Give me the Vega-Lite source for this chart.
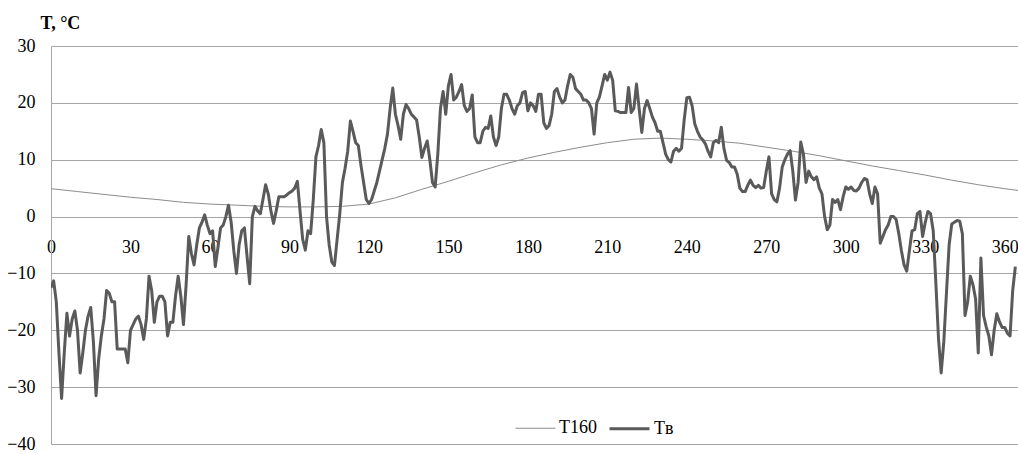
{
  "$schema": "https://vega.github.io/schema/vega-lite/v6.json",
  "width": 967,
  "height": 398,
  "autosize": "none",
  "padding": {"left": 51, "top": 46, "right": 0, "bottom": 10},
  "config": {
    "view": {"stroke": null},
    "font": "Liberation Serif",
    "axis": {"labelFont": "Liberation Serif", "labelFontSize": 18, "labelColor": "#000000", "titleFont": "Liberation Serif"},
    "legend": {"labelFont": "Liberation Serif", "labelFontSize": 18, "labelColor": "#000000"}
  },
  "data": {
    "values": [
      {"d":0,"t":4.9,"s":"T160"},{"d":10,"t":4.4,"s":"T160"},{"d":20,"t":3.9,"s":"T160"},{"d":30,"t":3.4,"s":"T160"},{"d":40,"t":3.0,"s":"T160"},{"d":50,"t":2.5,"s":"T160"},{"d":60,"t":2.2,"s":"T160"},{"d":70,"t":2.0,"s":"T160"},{"d":80,"t":1.8,"s":"T160"},{"d":90,"t":1.7,"s":"T160"},{"d":100,"t":1.7,"s":"T160"},{"d":110,"t":1.8,"s":"T160"},{"d":120,"t":2.2,"s":"T160"},{"d":130,"t":3.3,"s":"T160"},{"d":140,"t":4.8,"s":"T160"},{"d":150,"t":6.2,"s":"T160"},{"d":160,"t":7.7,"s":"T160"},{"d":170,"t":9.1,"s":"T160"},{"d":180,"t":10.3,"s":"T160"},{"d":190,"t":11.3,"s":"T160"},{"d":200,"t":12.2,"s":"T160"},{"d":210,"t":13.0,"s":"T160"},{"d":220,"t":13.6,"s":"T160"},{"d":230,"t":13.8,"s":"T160"},{"d":240,"t":13.6,"s":"T160"},{"d":250,"t":13.3,"s":"T160"},{"d":260,"t":12.9,"s":"T160"},{"d":270,"t":12.2,"s":"T160"},{"d":280,"t":11.5,"s":"T160"},{"d":290,"t":10.7,"s":"T160"},{"d":300,"t":9.8,"s":"T160"},{"d":310,"t":8.9,"s":"T160"},{"d":320,"t":8.1,"s":"T160"},{"d":330,"t":7.3,"s":"T160"},{"d":340,"t":6.4,"s":"T160"},{"d":350,"t":5.6,"s":"T160"},{"d":360,"t":4.9,"s":"T160"},{"d":365,"t":4.6,"s":"T160"},
      {"d":0,"t":-12.5,"s":"Tв"},{"d":1,"t":-11.3,"s":"Tв"},{"d":2,"t":-15,"s":"Tв"},{"d":3,"t":-24,"s":"Tв"},{"d":4,"t":-32,"s":"Tв"},{"d":5,"t":-24,"s":"Tв"},{"d":6,"t":-17,"s":"Tв"},{"d":7,"t":-21,"s":"Tв"},{"d":8,"t":-18,"s":"Tв"},{"d":9,"t":-16.6,"s":"Tв"},
      {"d":10,"t":-20,"s":"Tв"},{"d":11,"t":-27.5,"s":"Tв"},{"d":12,"t":-24,"s":"Tв"},{"d":13,"t":-20,"s":"Tв"},{"d":14,"t":-17.5,"s":"Tв"},{"d":15,"t":-16,"s":"Tв"},{"d":16,"t":-22,"s":"Tв"},{"d":17,"t":-31.5,"s":"Tв"},{"d":18,"t":-25,"s":"Tв"},{"d":19,"t":-21,"s":"Tв"},
      {"d":20,"t":-18,"s":"Tв"},{"d":21,"t":-13,"s":"Tв"},{"d":22,"t":-13.5,"s":"Tв"},{"d":23,"t":-15,"s":"Tв"},{"d":24,"t":-15,"s":"Tв"},{"d":25,"t":-23.3,"s":"Tв"},{"d":26,"t":-23.3,"s":"Tв"},{"d":27,"t":-23.3,"s":"Tв"},{"d":28,"t":-23.3,"s":"Tв"},{"d":29,"t":-25.7,"s":"Tв"},
      {"d":30,"t":-20,"s":"Tв"},{"d":31,"t":-19,"s":"Tв"},{"d":32,"t":-18,"s":"Tв"},{"d":33,"t":-17.5,"s":"Tв"},{"d":34,"t":-19,"s":"Tв"},{"d":35,"t":-21.6,"s":"Tв"},{"d":36,"t":-18,"s":"Tв"},{"d":37,"t":-10.5,"s":"Tв"},{"d":38,"t":-13,"s":"Tв"},{"d":39,"t":-18.6,"s":"Tв"},
      {"d":40,"t":-15,"s":"Tв"},{"d":41,"t":-14,"s":"Tв"},{"d":42,"t":-14,"s":"Tв"},{"d":43,"t":-15,"s":"Tв"},{"d":44,"t":-21,"s":"Tв"},{"d":45,"t":-18.6,"s":"Tв"},{"d":46,"t":-18.6,"s":"Tв"},{"d":47,"t":-14,"s":"Tв"},{"d":48,"t":-10.5,"s":"Tв"},{"d":49,"t":-14,"s":"Tв"},
      {"d":50,"t":-19,"s":"Tв"},{"d":51,"t":-12,"s":"Tв"},{"d":52,"t":-3.5,"s":"Tв"},{"d":53,"t":-6.5,"s":"Tв"},{"d":54,"t":-8.5,"s":"Tв"},{"d":55,"t":-5,"s":"Tв"},{"d":56,"t":-2,"s":"Tв"},{"d":57,"t":-1,"s":"Tв"},{"d":58,"t":0.3,"s":"Tв"},{"d":59,"t":-1.5,"s":"Tв"},
      {"d":60,"t":-3,"s":"Tв"},{"d":61,"t":-2.5,"s":"Tв"},{"d":62,"t":-8.8,"s":"Tв"},{"d":63,"t":-5.5,"s":"Tв"},{"d":64,"t":-2,"s":"Tв"},{"d":65,"t":-1.5,"s":"Tв"},{"d":66,"t":0,"s":"Tв"},{"d":67,"t":2,"s":"Tв"},{"d":68,"t":-1,"s":"Tв"},{"d":69,"t":-6,"s":"Tв"},
      {"d":70,"t":-10,"s":"Tв"},{"d":71,"t":-5,"s":"Tв"},{"d":72,"t":-2.5,"s":"Tв"},{"d":73,"t":-2,"s":"Tв"},{"d":74,"t":-7,"s":"Tв"},{"d":75,"t":-11.8,"s":"Tв"},{"d":76,"t":0,"s":"Tв"},{"d":77,"t":1.8,"s":"Tв"},{"d":78,"t":1,"s":"Tв"},{"d":79,"t":0.5,"s":"Tв"},
      {"d":80,"t":3,"s":"Tв"},{"d":81,"t":5.6,"s":"Tв"},{"d":82,"t":4,"s":"Tв"},{"d":83,"t":1,"s":"Tв"},{"d":84,"t":-1.2,"s":"Tв"},{"d":85,"t":1,"s":"Tв"},{"d":86,"t":3.5,"s":"Tв"},{"d":87,"t":3.5,"s":"Tв"},{"d":88,"t":3.5,"s":"Tв"},{"d":89,"t":3.8,"s":"Tв"},
      {"d":90,"t":4.2,"s":"Tв"},{"d":91,"t":4.5,"s":"Tв"},{"d":92,"t":5,"s":"Tв"},{"d":93,"t":6.2,"s":"Tв"},{"d":94,"t":1,"s":"Tв"},{"d":95,"t":-4,"s":"Tв"},{"d":96,"t":-5.9,"s":"Tв"},{"d":97,"t":-2.5,"s":"Tв"},{"d":98,"t":-3,"s":"Tв"},{"d":99,"t":3,"s":"Tв"},
      {"d":100,"t":10.5,"s":"Tв"},{"d":101,"t":12.5,"s":"Tв"},{"d":102,"t":15.3,"s":"Tв"},{"d":103,"t":13,"s":"Tв"},{"d":104,"t":0,"s":"Tв"},{"d":105,"t":-5,"s":"Tв"},{"d":106,"t":-8,"s":"Tв"},{"d":107,"t":-8.6,"s":"Tв"},{"d":108,"t":-4,"s":"Tв"},{"d":109,"t":0.5,"s":"Tв"},
      {"d":110,"t":6,"s":"Tв"},{"d":111,"t":8.5,"s":"Tв"},{"d":112,"t":11.5,"s":"Tв"},{"d":113,"t":16.8,"s":"Tв"},{"d":114,"t":15,"s":"Tв"},{"d":115,"t":13,"s":"Tв"},{"d":116,"t":12.5,"s":"Tв"},{"d":117,"t":9,"s":"Tв"},{"d":118,"t":6,"s":"Tв"},{"d":119,"t":3,"s":"Tв"},
      {"d":120,"t":2.3,"s":"Tв"},{"d":121,"t":3,"s":"Tв"},{"d":122,"t":4.5,"s":"Tв"},{"d":123,"t":6,"s":"Tв"},{"d":124,"t":8,"s":"Tв"},{"d":125,"t":10,"s":"Tв"},{"d":126,"t":12,"s":"Tв"},{"d":127,"t":14.5,"s":"Tв"},{"d":128,"t":19,"s":"Tв"},{"d":129,"t":22.6,"s":"Tв"},
      {"d":130,"t":18,"s":"Tв"},{"d":131,"t":16,"s":"Tв"},{"d":132,"t":13.6,"s":"Tв"},{"d":133,"t":18,"s":"Tв"},{"d":134,"t":19.7,"s":"Tв"},{"d":135,"t":19,"s":"Tв"},{"d":136,"t":18,"s":"Tв"},{"d":137,"t":17.5,"s":"Tв"},{"d":138,"t":17,"s":"Tв"},{"d":139,"t":14,"s":"Tв"},
      {"d":140,"t":10.4,"s":"Tв"},{"d":141,"t":12,"s":"Tв"},{"d":142,"t":13.3,"s":"Tв"},{"d":143,"t":10,"s":"Tв"},{"d":144,"t":6,"s":"Tв"},{"d":145,"t":5.2,"s":"Tв"},{"d":146,"t":11,"s":"Tв"},{"d":147,"t":19,"s":"Tв"},{"d":148,"t":22,"s":"Tв"},{"d":149,"t":18,"s":"Tв"},
      {"d":150,"t":23,"s":"Tв"},{"d":151,"t":25,"s":"Tв"},{"d":152,"t":20.5,"s":"Tв"},{"d":153,"t":21,"s":"Tв"},{"d":154,"t":22,"s":"Tв"},{"d":155,"t":23.2,"s":"Tв"},{"d":156,"t":19.5,"s":"Tв"},{"d":157,"t":18.5,"s":"Tв"},{"d":158,"t":19,"s":"Tв"},{"d":159,"t":21.4,"s":"Tв"},
      {"d":160,"t":14,"s":"Tв"},{"d":161,"t":13,"s":"Tв"},{"d":162,"t":13,"s":"Tв"},{"d":163,"t":15,"s":"Tв"},{"d":164,"t":15.7,"s":"Tв"},{"d":165,"t":15.5,"s":"Tв"},{"d":166,"t":17.7,"s":"Tв"},{"d":167,"t":14,"s":"Tв"},{"d":168,"t":12.5,"s":"Tв"},{"d":169,"t":14,"s":"Tв"},
      {"d":170,"t":19,"s":"Tв"},{"d":171,"t":21.5,"s":"Tв"},{"d":172,"t":21.5,"s":"Tв"},{"d":173,"t":20.5,"s":"Tв"},{"d":174,"t":19,"s":"Tв"},{"d":175,"t":18,"s":"Tв"},{"d":176,"t":19.5,"s":"Tв"},{"d":177,"t":20,"s":"Tв"},{"d":178,"t":21.8,"s":"Tв"},{"d":179,"t":22,"s":"Tв"},
      {"d":180,"t":18.6,"s":"Tв"},{"d":181,"t":20,"s":"Tв"},{"d":182,"t":19.5,"s":"Tв"},{"d":183,"t":18.5,"s":"Tв"},{"d":184,"t":21.5,"s":"Tв"},{"d":185,"t":21.5,"s":"Tв"},{"d":186,"t":16.5,"s":"Tв"},{"d":187,"t":15.5,"s":"Tв"},{"d":188,"t":16,"s":"Tв"},{"d":189,"t":18,"s":"Tв"},
      {"d":190,"t":22,"s":"Tв"},{"d":191,"t":22.5,"s":"Tв"},{"d":192,"t":21,"s":"Tв"},{"d":193,"t":20,"s":"Tв"},{"d":194,"t":20.5,"s":"Tв"},{"d":195,"t":23,"s":"Tв"},{"d":196,"t":25,"s":"Tв"},{"d":197,"t":24.5,"s":"Tв"},{"d":198,"t":22.5,"s":"Tв"},{"d":199,"t":22,"s":"Tв"},
      {"d":200,"t":21.5,"s":"Tв"},{"d":201,"t":20.5,"s":"Tв"},{"d":202,"t":20.5,"s":"Tв"},{"d":203,"t":20,"s":"Tв"},{"d":204,"t":19,"s":"Tв"},{"d":205,"t":14.5,"s":"Tв"},{"d":206,"t":20,"s":"Tв"},{"d":207,"t":21,"s":"Tв"},{"d":208,"t":23,"s":"Tв"},{"d":209,"t":25,"s":"Tв"},
      {"d":210,"t":24,"s":"Tв"},{"d":211,"t":25.4,"s":"Tв"},{"d":212,"t":24,"s":"Tв"},{"d":213,"t":18.6,"s":"Tв"},{"d":214,"t":18.5,"s":"Tв"},{"d":215,"t":18.3,"s":"Tв"},{"d":216,"t":18.3,"s":"Tв"},{"d":217,"t":18.3,"s":"Tв"},{"d":218,"t":22.7,"s":"Tв"},{"d":219,"t":18.3,"s":"Tв"},
      {"d":220,"t":19,"s":"Tв"},{"d":221,"t":23.3,"s":"Tв"},{"d":222,"t":19,"s":"Tв"},{"d":223,"t":14.8,"s":"Tв"},{"d":224,"t":19,"s":"Tв"},{"d":225,"t":20.4,"s":"Tв"},{"d":226,"t":19,"s":"Tв"},{"d":227,"t":17.5,"s":"Tв"},{"d":228,"t":16.5,"s":"Tв"},{"d":229,"t":15,"s":"Tв"},
      {"d":230,"t":15,"s":"Tв"},{"d":231,"t":13,"s":"Tв"},{"d":232,"t":11,"s":"Tв"},{"d":233,"t":10,"s":"Tв"},{"d":234,"t":9.6,"s":"Tв"},{"d":235,"t":11.5,"s":"Tв"},{"d":236,"t":12,"s":"Tв"},{"d":237,"t":11.5,"s":"Tв"},{"d":238,"t":12,"s":"Tв"},{"d":239,"t":17,"s":"Tв"},
      {"d":240,"t":20.9,"s":"Tв"},{"d":241,"t":21,"s":"Tв"},{"d":242,"t":19.5,"s":"Tв"},{"d":243,"t":16.3,"s":"Tв"},{"d":244,"t":15,"s":"Tв"},{"d":245,"t":14,"s":"Tв"},{"d":246,"t":13.5,"s":"Tв"},{"d":247,"t":12.8,"s":"Tв"},{"d":248,"t":11.5,"s":"Tв"},{"d":249,"t":10.5,"s":"Tв"},
      {"d":250,"t":13,"s":"Tв"},{"d":251,"t":13.4,"s":"Tв"},{"d":252,"t":13,"s":"Tв"},{"d":253,"t":15.7,"s":"Tв"},{"d":254,"t":12,"s":"Tв"},{"d":255,"t":9.9,"s":"Tв"},{"d":256,"t":9.5,"s":"Tв"},{"d":257,"t":8.7,"s":"Tв"},{"d":258,"t":8.7,"s":"Tв"},{"d":259,"t":7.5,"s":"Tв"},
      {"d":260,"t":5,"s":"Tв"},{"d":261,"t":4.4,"s":"Tв"},{"d":262,"t":4.4,"s":"Tв"},{"d":263,"t":5.5,"s":"Tв"},{"d":264,"t":6.4,"s":"Tв"},{"d":265,"t":5.5,"s":"Tв"},{"d":266,"t":5.1,"s":"Tв"},{"d":267,"t":5.5,"s":"Tв"},{"d":268,"t":5,"s":"Tв"},{"d":269,"t":5.1,"s":"Tв"},
      {"d":270,"t":8,"s":"Tв"},{"d":271,"t":10.5,"s":"Tв"},{"d":272,"t":4,"s":"Tв"},{"d":273,"t":3,"s":"Tв"},{"d":274,"t":2.6,"s":"Tв"},{"d":275,"t":5,"s":"Tв"},{"d":276,"t":8.7,"s":"Tв"},{"d":277,"t":10,"s":"Tв"},{"d":278,"t":11,"s":"Tв"},{"d":279,"t":11.6,"s":"Tв"},
      {"d":280,"t":8,"s":"Tв"},{"d":281,"t":2.9,"s":"Tв"},{"d":282,"t":6,"s":"Tв"},{"d":283,"t":13.1,"s":"Tв"},{"d":284,"t":11,"s":"Tв"},{"d":285,"t":6,"s":"Tв"},{"d":286,"t":8,"s":"Tв"},{"d":287,"t":7,"s":"Tв"},{"d":288,"t":6.5,"s":"Tв"},{"d":289,"t":7,"s":"Tв"},
      {"d":290,"t":5,"s":"Tв"},{"d":291,"t":4,"s":"Tв"},{"d":292,"t":0,"s":"Tв"},{"d":293,"t":-2.3,"s":"Tв"},{"d":294,"t":-1.5,"s":"Tв"},{"d":295,"t":3,"s":"Tв"},{"d":296,"t":2.5,"s":"Tв"},{"d":297,"t":3,"s":"Tв"},{"d":298,"t":1.2,"s":"Tв"},{"d":299,"t":3.5,"s":"Tв"},
      {"d":300,"t":5.2,"s":"Tв"},{"d":301,"t":4.8,"s":"Tв"},{"d":302,"t":5.2,"s":"Tв"},{"d":303,"t":4.6,"s":"Tв"},{"d":304,"t":4.5,"s":"Tв"},{"d":305,"t":5,"s":"Tв"},{"d":306,"t":6,"s":"Tв"},{"d":307,"t":6.7,"s":"Tв"},{"d":308,"t":6.5,"s":"Tв"},{"d":309,"t":4,"s":"Tв"},
      {"d":310,"t":2.3,"s":"Tв"},{"d":311,"t":5.2,"s":"Tв"},{"d":312,"t":4,"s":"Tв"},{"d":313,"t":-4.7,"s":"Tв"},{"d":314,"t":-3.5,"s":"Tв"},{"d":315,"t":-2.3,"s":"Tв"},{"d":316,"t":-1.5,"s":"Tв"},{"d":317,"t":0,"s":"Tв"},{"d":318,"t":0,"s":"Tв"},{"d":319,"t":-0.5,"s":"Tв"},
      {"d":320,"t":-3,"s":"Tв"},{"d":321,"t":-6,"s":"Tв"},{"d":322,"t":-8.5,"s":"Tв"},{"d":323,"t":-9.6,"s":"Tв"},{"d":324,"t":-6,"s":"Tв"},{"d":325,"t":-2.5,"s":"Tв"},{"d":326,"t":-2.3,"s":"Tв"},{"d":327,"t":0.5,"s":"Tв"},{"d":328,"t":0.9,"s":"Tв"},{"d":329,"t":-3.5,"s":"Tв"},
      {"d":330,"t":-1,"s":"Tв"},{"d":331,"t":0.9,"s":"Tв"},{"d":332,"t":0.5,"s":"Tв"},{"d":333,"t":-2.5,"s":"Tв"},{"d":334,"t":-11.7,"s":"Tв"},{"d":335,"t":-21.5,"s":"Tв"},{"d":336,"t":-27.5,"s":"Tв"},{"d":337,"t":-22,"s":"Tв"},{"d":338,"t":-13.4,"s":"Tв"},{"d":339,"t":-5,"s":"Tв"},
      {"d":340,"t":-1.3,"s":"Tв"},{"d":341,"t":-1,"s":"Tв"},{"d":342,"t":-0.7,"s":"Tв"},{"d":343,"t":-0.8,"s":"Tв"},{"d":344,"t":-3,"s":"Tв"},{"d":345,"t":-17.4,"s":"Tв"},{"d":346,"t":-15,"s":"Tв"},{"d":347,"t":-10.5,"s":"Tв"},{"d":348,"t":-12,"s":"Tв"},{"d":349,"t":-14.5,"s":"Tв"},
      {"d":350,"t":-24,"s":"Tв"},{"d":351,"t":-7.3,"s":"Tв"},{"d":352,"t":-17.4,"s":"Tв"},{"d":353,"t":-19.4,"s":"Tв"},{"d":354,"t":-21,"s":"Tв"},{"d":355,"t":-24.3,"s":"Tв"},{"d":356,"t":-20,"s":"Tв"},{"d":357,"t":-17.1,"s":"Tв"},{"d":358,"t":-18.5,"s":"Tв"},{"d":359,"t":-19.5,"s":"Tв"},
      {"d":360,"t":-19.5,"s":"Tв"},{"d":361,"t":-20.5,"s":"Tв"},{"d":362,"t":-21,"s":"Tв"},{"d":363,"t":-13,"s":"Tв"},{"d":364,"t":-8.8,"s":"Tв"}
    ]
  },
  "mark": {"type": "line", "strokeJoin": "round", "clip": true},
  "encoding": {
    "x": {
      "field": "d", "type": "quantitative",
      "scale": {"domain": [0, 365], "nice": false, "zero": false},
      "axis": {
        "title": null, "values": [0, 30, 60, 90, 120, 150, 180, 210, 240, 270, 300, 330, 360],
        "grid": false, "ticks": false, "tickSize": 0, "domain": false,
        "offset": -228, "labelPadding": 22, "labelFlush": false, "labelOverlap": false
      }
    },
    "y": {
      "field": "t", "type": "quantitative",
      "scale": {"domain": [-40, 30], "nice": false, "zero": false},
      "axis": {
        "values": [-40, -30, -20, -10, 0, 10, 20, 30],
        "grid": true, "gridColor": "#a6a6a6", "gridWidth": 1, "gridOpacity": 1,
        "domain": true, "domainColor": "#a6a6a6", "domainWidth": 1,
        "ticks": false, "tickSize": 0, "labelPadding": 16,
        "title": "T, °C", "titleAngle": 0, "titleAlign": "left", "titleBaseline": "alphabetic",
        "titleX": -11, "titleY": -18, "titleFontWeight": "bold", "titleFontSize": 18, "titleColor": "#000000"
      }
    },
    "color": {
      "field": "s", "type": "nominal",
      "scale": {"domain": ["T160", "Tв"], "range": ["#8c8c8c", "#5a5a5a"]},
      "legend": {
        "title": null, "orient": "none", "legendX": 464, "legendY": 361,
        "direction": "horizontal", "symbolType": "stroke", "symbolSize": 1600,
        "columnPadding": 6, "labelOffset": 3
      }
    },
    "strokeWidth": {
      "field": "s", "type": "nominal",
      "scale": {"domain": ["T160", "Tв"], "range": [1, 3]},
      "legend": {
        "title": null, "orient": "none", "legendX": 464, "legendY": 361,
        "direction": "horizontal", "symbolType": "stroke", "symbolSize": 1600,
        "columnPadding": 6, "labelOffset": 3
      }
    }
  }
}
